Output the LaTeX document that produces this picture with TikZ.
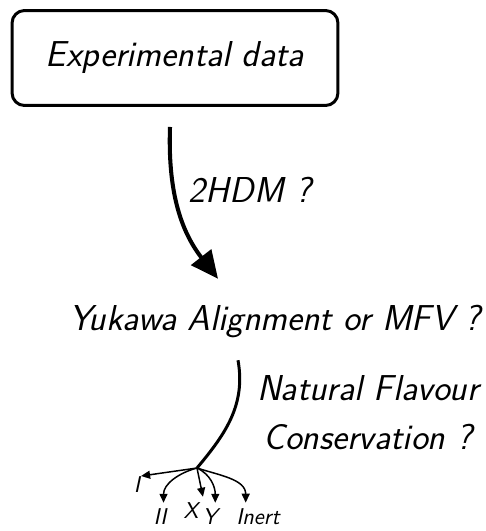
\documentclass[tikz,border=0pt]{standalone}
\usetikzlibrary{arrows.meta, positioning, calc}
\tikzset{
  every picture/.style={font=\sffamily\itshape, line width=1.2pt},
  box/.style={draw, rounded corners=0.25cm, line width=1.7pt, minimum width=6.52cm, minimum height=1.9cm},
  big/.style={font=\sffamily\itshape\fontsize{20.5}{28}\selectfont, align=center},
  small/.style={font=\sffamily\itshape\fontsize{13}{15}\selectfont, inner sep=1pt},
  bigarrow/.style={-{Triangle[length=0.55cm, width=0.5cm]}, line width=2.3pt},
  branch/.style={line width=1.7pt},
  twig/.style={-{Triangle[length=0.18cm, width=0.16cm]}, line width=0.85pt},
}

\begin{document}
\begin{tikzpicture}[x=0.02cm, y=0.02cm]
  \useasboundingbox (0,0) rectangle (485,-531);
  \node[box, big] (data) at (175,-58) {Experimental data};
  \node[big] (hdm) at (250,-190) {2HDM ?};
  \node[big] (yuk) at (275,-322) {Yukawa Alignment or MFV ?};
  \node[big] (nfc) at (368,-413) {Natural Flavour\\Conservation ?};
  \coordinate (br) at (197,-468);
  % the small labels under the branch point
  \node[small] (lI) at (137,-485) {I};
  \node[small] (lII) at (160,-517) {II};
  \node[small] (lX) at (191,-511) {X};
  \node[small] (lY) at (210,-517) {Y};
  \node[small] (lIn) at (258,-517) {Inert};
  \draw[bigarrow] ([xshift=-0.1cm, yshift=-0.4cm]data.south) to[out=-92, in=128] ([xshift=-1.14cm, yshift=0.4cm]yuk.north);
  \draw[branch] ([xshift=-0.74cm, yshift=-0.3cm]yuk.south) to[out=-80, in=50] (br);
  \draw[twig] (br) -- ([xshift=-1pt, yshift=-1pt]lI.north east);
  \draw[twig] (br) to[out=195, in=90] ([xshift=2pt, yshift=2pt]lII.north);
  \draw[twig] (br) -- ([xshift=1pt, yshift=2pt]lX.north east);
  \draw[twig] (br) to[out=-25, in=90] ([xshift=3pt, yshift=2pt]lY.north);
  \draw[twig] (br) to[out=-18, in=90] ([xshift=-7pt, yshift=2pt]lIn.north);
\end{tikzpicture}
\end{document}
